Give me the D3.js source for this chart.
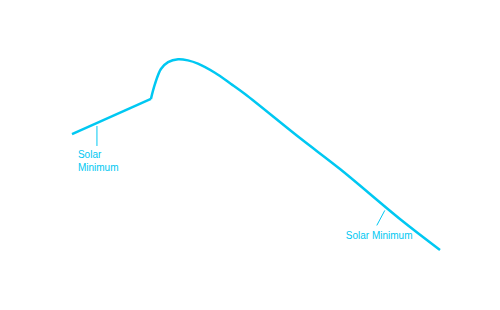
<!DOCTYPE html>
<html>
<head>
<meta charset="utf-8">
<script src="https://cdn.jsdelivr.net/npm/d3@7"></script>
<style>
  body { margin: 0; background: #fff; }
  text { font-family: "Liberation Sans", Arial, sans-serif; }
</style>
</head>
<body>
<div class="chart"></div>
<script>
var width = 500;
var height = 310;

// rising phase, straight segment
var riseYears = [1994.0, 1997.86];
var riseValues = [61.0, 79.5];

// peak and decline, smooth segment
var cycleYears = [1997.86, 1998.06, 1998.35, 1998.70, 1999.19, 1999.67, 2000.16, 2000.99, 2001.78, 2002.46, 2005.15, 2007.11, 2010.04, 2012.0];
var cycleValues = [79.5, 87.4, 95.3, 98.9, 100.4, 99.8, 98.1, 93.3, 87.4, 82.1, 58.9, 42.6, 16.3, 0];

// annotation labels
var minimaYears = [1995.22, 2009.3];
var minimaLabels = [["Solar", "Minimum"], ["Solar Minimum"]];

var lineColor = "#00c8f2";

var x = d3.scaleLinear().domain([1994, 2012]).range([72, 440]);
var y = d3.scaleLinear().domain([0, 100]).range([250, 60]);

var svg = d3.select(".chart")
    .append("svg")
    .attr("width", width)
    .attr("height", height);

var riseData = riseYears.map(function(d, i) { return { year: d, value: riseValues[i] }; });
var cycleData = cycleYears.map(function(d, i) { return { year: d, value: cycleValues[i] }; });

var straight = d3.line()
    .x(function(d) { return x(d.year); })
    .y(function(d) { return y(d.value); });

var smooth = d3.line()
    .x(function(d) { return x(d.year); })
    .y(function(d) { return y(d.value); })
    .curve(d3.curveCatmullRom.alpha(0.5));

svg.append("path")
    .attr("d", straight(riseData))
    .attr("stroke", lineColor)
    .attr("stroke-width", 2.5)
    .attr("fill", "none");

svg.append("path")
    .attr("d", smooth(cycleData))
    .attr("stroke", lineColor)
    .attr("stroke-width", 2.5)
    .attr("stroke-linejoin", "round")
    .attr("fill", "none");

// value on the line at a given year
function lineAt(year) {
    var all = riseData.concat(cycleData.slice(1));
    var i = d3.bisector(function(d) { return d.year; }).left(all, year);
    var a = all[Math.max(i - 1, 0)], b = all[i];
    var t = (year - a.year) / (b.year - a.year);
    return a.value + t * (b.value - a.value);
}

// left annotation
var lx = x(minimaYears[0]), ly = y(lineAt(minimaYears[0]));
svg.append("line")
    .attr("x1", lx).attr("y1", ly + 3)
    .attr("x2", lx).attr("y2", ly + 23)
    .attr("stroke", lineColor)
    .attr("stroke-width", 1);

svg.append("text")
    .attr("x", lx - 19)
    .attr("y", ly + 35)
    .attr("fill", lineColor)
    .style("font-size", "10px")
    .selectAll("tspan")
    .data(minimaLabels[0])
    .enter().append("tspan")
    .attr("x", lx - 19)
    .attr("dy", function(d, i) { return i ? 13 : 0; })
    .text(function(d) { return d; });

// right annotation
var rx = x(minimaYears[1]), ry = y(lineAt(minimaYears[1]));
svg.append("line")
    .attr("x1", rx).attr("y1", ry + 4)
    .attr("x2", rx - 8).attr("y2", ry + 19)
    .attr("stroke", lineColor)
    .attr("stroke-width", 1);

svg.append("text")
    .attr("x", rx - 39)
    .attr("y", ry + 33)
    .attr("fill", lineColor)
    .style("font-size", "10px")
    .text(minimaLabels[1][0]);
</script>
</body>
</html>
